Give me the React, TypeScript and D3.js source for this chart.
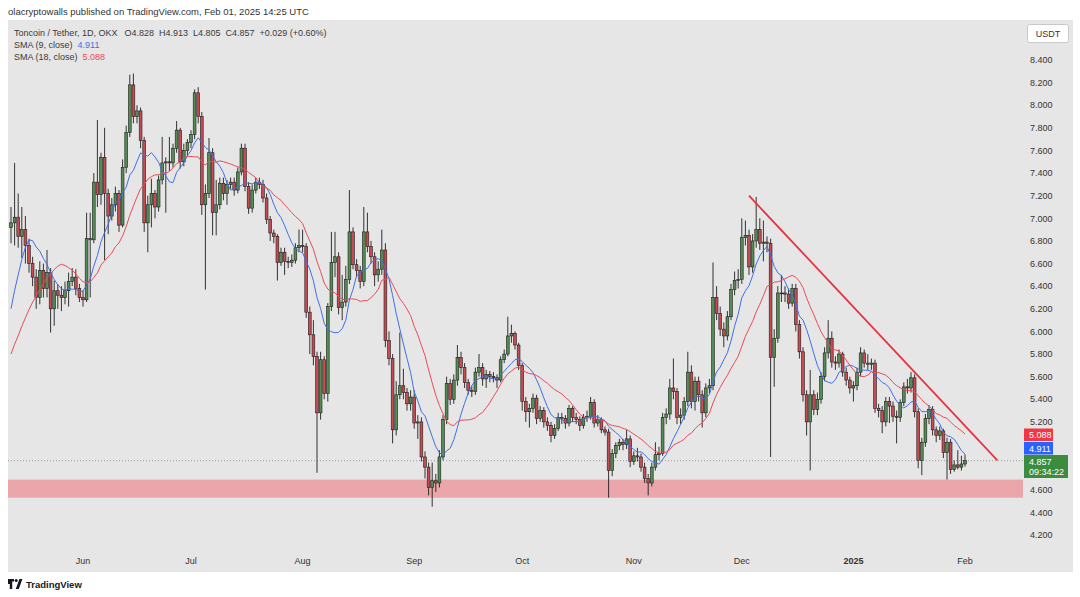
import React from "react";
import * as d3 from "d3";

// TON/USDT daily candles, 2024-05-12 .. 2025-02-01 (OKX)
const firstDay = "2024-05-12";
const firstOpen = 6.92;

// Apr 25 .. May 11, only there so the moving averages have some history
const priorCloses = [5.45, 5.5, 5.38, 5.42, 5.3, 5.28, 5.35, 5.42, 5.5, 5.55, 5.6, 5.68, 5.79, 6.0, 6.55, 6.8, 6.87];

const closes = [
  6.96, 7.01, 6.84, 6.9, 6.76, 6.6, 6.48, 6.3, 6.54, 6.38,
  6.52, 6.2, 6.36, 6.32, 6.3, 6.36, 6.44, 6.48, 6.38, 6.3,
  6.28, 6.82, 6.81, 7.32, 7.21, 7.54, 7.22, 7.02, 7.12, 7.22,
  6.94, 7.45, 7.76, 8.18, 7.9, 7.95, 7.69, 6.96, 7.12, 7.22,
  7.1, 7.34, 7.49, 7.5, 7.49, 7.62, 7.78, 7.5, 7.6, 7.67,
  7.74, 8.11, 7.9, 7.12, 7.22, 7.58, 7.05, 7.12, 7.31, 7.22,
  7.3, 7.32, 7.25, 7.41, 7.62, 7.28, 7.09, 7.25, 7.32, 7.3,
  7.18, 6.99, 6.87, 6.84, 6.61, 6.7, 6.62, 6.61, 6.63, 6.74,
  6.76, 6.75, 6.17, 5.97, 5.78, 5.28, 5.75, 5.45, 6.22, 6.61,
  6.66, 6.21, 6.26, 6.46, 6.88, 6.59, 6.54, 6.44, 6.88, 6.75,
  6.66, 6.5, 6.55, 6.72, 5.92, 5.76, 5.13, 5.44, 5.52, 5.46,
  5.36, 5.42, 5.19, 5.2, 4.89, 4.8, 4.62, 4.68, 4.66, 4.89,
  5.22, 5.54, 5.4, 5.57, 5.77, 5.68, 5.55, 5.48, 5.47, 5.64,
  5.68, 5.58, 5.62, 5.6, 5.59, 5.57, 5.75, 5.8, 5.96, 5.98,
  5.88, 5.7, 5.38, 5.29, 5.32, 5.41, 5.23, 5.3, 5.2, 5.17,
  5.08, 5.14, 5.24, 5.23, 5.19, 5.32, 5.24, 5.22, 5.17, 5.24,
  5.25, 5.37, 5.19, 5.22, 5.13, 5.11, 4.77, 4.92, 4.99, 5.02,
  5.0, 5.05, 4.85, 4.9, 4.89, 4.8, 4.7, 4.66, 4.8, 4.91,
  4.92, 5.24, 5.27, 5.5, 5.47, 5.24, 5.26, 5.38, 5.64, 5.38,
  5.56, 5.44, 5.28, 5.5, 5.52, 6.3, 6.16, 6.02, 5.96, 6.13,
  6.37, 6.45, 6.46, 6.83, 6.85, 6.57, 6.8, 6.9, 6.78, 6.79,
  6.78, 5.77, 5.94, 6.34, 6.34, 6.33, 6.25, 6.38, 6.06, 5.82,
  5.44, 5.2, 5.44, 5.31, 5.4, 5.6, 5.81, 5.94, 5.73, 5.72,
  5.8, 5.64, 5.57, 5.5, 5.52, 5.64, 5.81, 5.72, 5.71, 5.72,
  5.32, 5.3, 5.2, 5.38, 5.34, 5.25, 5.24, 5.37, 5.51, 5.5,
  5.59, 5.29, 4.86, 5.02, 5.23, 5.31, 5.13, 5.08, 5.12, 4.93,
  5.02, 4.78, 4.82, 4.8, 4.828, 4.857,
];

const highs = [
  7.1, 7.49, 7.22, 7.1, 7.02, 6.82, 6.66, 6.55, 6.62, 6.6,
  6.72, 6.56, 6.45, 6.42, 6.4, 6.44, 6.52, 6.56, 6.55, 6.42,
  6.36, 7.05, 7.05, 7.4, 7.87, 7.58, 7.8, 7.26, 7.18, 7.28,
  7.25, 7.52, 7.82, 8.27, 8.28, 8.0, 7.98, 7.72, 7.2, 7.35,
  7.25, 7.38, 7.72, 7.54, 7.72, 7.66, 7.86, 7.8, 7.66, 7.7,
  7.78, 8.14, 8.16, 7.94, 7.3, 7.71, 7.62, 7.34, 7.36, 7.36,
  7.34, 7.36, 7.36, 7.45, 7.66, 7.66, 7.32, 7.3, 7.36, 7.36,
  7.34, 7.22, 7.02, 6.9, 6.86, 6.74, 6.74, 6.66, 6.68, 6.78,
  6.9, 6.9, 6.78, 6.22, 6.1, 5.82, 5.82, 5.78, 6.25, 6.88,
  6.88, 6.7, 6.5, 6.58, 7.25, 6.92, 6.64, 6.58, 7.1, 7.05,
  6.8, 6.7, 6.62, 6.9, 6.78, 6.0, 5.8, 5.56, 5.99, 5.67,
  5.5, 5.48, 5.48, 5.26, 5.24, 4.94, 4.84, 4.84, 4.74, 4.95,
  5.26, 5.6, 5.58, 5.62, 5.88, 5.82, 5.72, 5.58, 5.52, 5.68,
  5.8, 5.72, 5.66, 5.65, 5.64, 5.62, 5.78, 5.84, 6.13, 6.06,
  6.0, 5.9, 5.72, 5.42, 5.36, 5.45, 5.44, 5.34, 5.33, 5.24,
  5.2, 5.18, 5.28, 5.28, 5.26, 5.35, 5.34, 5.28, 5.25, 5.27,
  5.3, 5.42, 5.4, 5.26, 5.24, 5.16, 5.14, 4.96, 5.02, 5.05,
  5.05, 5.13, 5.08, 4.94, 4.97, 4.92, 4.84, 4.74, 4.84, 5.02,
  4.98, 5.28, 5.32, 5.58, 5.76, 5.5, 5.32, 5.42, 5.82, 5.7,
  5.6, 5.6, 5.48, 5.54, 5.58, 6.61, 6.4, 6.22, 6.08, 6.18,
  6.42, 6.53, 6.55, 7.0, 6.98, 6.9, 6.86, 7.19, 7.0, 6.98,
  6.84, 6.82, 6.02, 6.4, 6.5, 6.4, 6.38, 6.42, 6.42, 6.1,
  5.86, 5.48, 5.66, 5.48, 5.46, 5.64, 5.86, 6.1, 6.0, 5.78,
  5.84, 5.82, 5.68, 5.6, 5.56, 5.68, 5.86, 5.84, 5.8, 5.76,
  5.75, 5.36, 5.34, 5.42, 5.42, 5.38, 5.3, 5.4, 5.55, 5.58,
  5.64, 5.62, 5.32, 5.06, 5.27, 5.35, 5.34, 5.16, 5.16, 5.14,
  5.06, 5.05, 4.86, 4.95, 4.9, 4.913,
];

const lows = [
  6.78, 6.76, 6.74, 6.65, 6.6, 6.52, 6.4, 6.2, 6.24, 6.3,
  6.3, 5.99, 6.05, 6.2, 6.18, 6.24, 6.22, 6.4, 6.32, 6.26,
  6.22, 6.26, 6.3, 6.78, 7.1, 7.12, 6.63, 6.86, 6.98, 7.06,
  6.88, 6.92, 7.4, 7.72, 7.84, 7.84, 7.62, 6.88, 6.7, 6.92,
  7.0, 7.06, 7.3, 7.05, 7.42, 7.45, 7.58, 7.44, 7.46, 7.55,
  7.62, 7.7, 7.84, 7.03, 6.37, 7.18, 6.85, 6.85, 7.08, 7.16,
  7.12, 7.26, 7.2, 7.22, 7.38, 7.24, 7.04, 7.05, 7.22, 7.26,
  7.14, 6.95, 6.8, 6.78, 6.45, 6.58, 6.5, 6.56, 6.57, 6.6,
  6.7, 6.7, 6.12, 5.8, 5.7, 4.75, 5.22, 5.4, 5.38, 6.18,
  6.48, 6.15, 6.1, 6.22, 6.42, 6.55, 6.48, 6.38, 6.4, 6.7,
  6.6, 6.4, 6.44, 6.5, 5.86, 5.7, 5.01, 5.08, 5.4, 5.4,
  5.3, 5.3, 5.14, 5.05, 4.85, 4.7, 4.55, 4.45, 4.58, 4.62,
  4.86, 5.18, 5.35, 5.36, 5.52, 5.62, 5.5, 5.44, 5.42, 5.44,
  5.6, 5.52, 5.5, 5.55, 5.55, 5.5, 5.55, 5.72, 5.78, 5.9,
  5.84, 5.66, 5.3, 5.2, 5.15, 5.28, 5.18, 5.2, 5.15, 5.12,
  5.02, 5.05, 5.12, 5.18, 5.14, 5.16, 5.2, 5.18, 5.12, 5.14,
  5.2, 5.22, 5.15, 5.16, 5.1, 5.08, 4.53, 4.72, 4.88, 4.95,
  4.95, 4.96, 4.8, 4.82, 4.85, 4.76, 4.66, 4.55, 4.63, 4.77,
  4.86, 4.9, 5.18, 5.22, 5.4, 5.18, 5.18, 5.22, 5.34, 5.32,
  5.3, 5.38, 5.15, 5.24, 5.45, 5.48, 6.1, 5.96, 5.86, 5.92,
  6.1, 6.32, 6.38, 6.42, 6.76, 6.5, 6.52, 6.74, 6.72, 6.62,
  6.7, 4.89, 5.51, 5.9, 6.26, 6.26, 6.2, 6.22, 6.0, 5.76,
  5.38, 5.08, 4.77, 5.26, 5.26, 5.36, 5.56, 5.76, 5.68, 5.66,
  5.68, 5.6, 5.52, 5.45, 5.38, 5.48, 5.6, 5.68, 5.66, 5.66,
  5.28, 5.24, 5.1, 5.16, 5.19, 5.2, 5.01, 5.2, 5.34, 5.45,
  5.46, 5.24, 4.79, 4.73, 4.98, 5.18, 5.08, 5.02, 5.04, 4.88,
  4.69, 4.74, 4.76, 4.78, 4.77, 4.805,
];

const priceTicks = [4.2, 4.4, 4.6, 4.8, 5.0, 5.2, 5.4, 5.6, 5.8, 6.0, 6.2, 6.4, 6.6, 6.8, 7.0, 7.2, 7.4, 7.6, 7.8, 8.0, 8.2, 8.4];
const monthStarts = ["2024-06-01", "2024-07-01", "2024-08-01", "2024-09-01", "2024-10-01", "2024-11-01", "2024-12-01", "2025-01-01", "2025-02-01"];
const monthLabels = ["Jun", "Jul", "Aug", "Sep", "Oct", "Nov", "Dec", "2025", "Feb"];

const supportZone = [4.53, 4.69];
const trendDates = ["2024-12-03", "2025-02-10"];
const trendPrices = [7.2, 4.86];

const smaPeriods = [9, 18];
const smaColors = ["#3e6fe6", "#ea4a58"];
const smaLast = ["4.911", "5.088"];

const symbolText = "Toncoin / Tether, 1D, OKX";
const ohlcText = ["O4.828", "H4.913", "L4.805", "C4.857", "+0.029 (+0.60%)"];
const lastPrice = 4.857;
const countdown = "09:34:22";

const upColor = "#538d53";
const downColor = "#c84a52";
const wickColor = "#1e1e1e";
const font = "'Liberation Sans', Arial, sans-serif";

type Pt = { date: Date; v: number };

export default function App() {
  const parse = d3.utcParse("%Y-%m-%d");
  const start = parse(firstDay) as Date;
  const days = d3.utcDay.range(start, d3.utcDay.offset(start, closes.length));

  const plotL = 8;
  const plotR = 1023;
  const x = d3.scaleUtc().domain([start, days[days.length - 1]]).range([11, 965]);
  const y = d3.scaleLinear().domain([4.2, 8.4]).range([535, 60]);

  const candles = closes.map((c, i) => ({
    date: days[i],
    open: i === 0 ? firstOpen : closes[i - 1],
    high: highs[i],
    low: lows[i],
    close: c,
  }));

  const all = priorCloses.concat(closes);
  const off = priorCloses.length;
  const smaSeries = smaPeriods.map((n) =>
    closes.map((_, i) => ({ date: days[i], v: d3.mean(all.slice(i + off - n + 1, i + off + 1)) as number }))
  );
  const line = d3
    .line<Pt>()
    .x((d) => x(d.date))
    .y((d) => y(d.v));

  const trend = trendDates.map((d, i) => ({ date: parse(d) as Date, v: trendPrices[i] }));
  const lastY = y(lastPrice);
  const bw = 2.8;

  // the value boxes cover the axis labels between these rows
  const boxTop = 428;
  const boxBottom = 479;

  return (
    <svg
      width={1080}
      height={597}
      style={{ position: "fixed", left: 0, top: 0, display: "block", background: "#fff" }}
      fontFamily={font}
    >
      <defs>
        <clipPath id="plot">
          <rect x={plotL} y={20} width={plotR - plotL} height={528} />
        </clipPath>
      </defs>

      <text x={8} y={15} fontSize={9.5} fill="#333">
        olacryptowalls published on TradingView.com, Feb 01, 2025 14:25 UTC
      </text>

      <rect x={8} y={20} width={1065} height={552} fill="#e6e6e6" />

      <g clipPath="url(#plot)">
        <rect
          x={plotL}
          y={y(supportZone[1])}
          width={plotR - plotL}
          height={y(supportZone[0]) - y(supportZone[1])}
          fill="#eba6ab"
        />
        <line x1={plotL} x2={plotR} y1={lastY} y2={lastY} stroke="#8a8a8a" strokeWidth={0.8} strokeDasharray="1 2" />

        {candles.map((d, i) => {
          const cx = x(d.date);
          const up = d.close >= d.open;
          const top = y(Math.max(d.open, d.close));
          const bot = y(Math.min(d.open, d.close));
          return (
            <g key={i}>
              <line x1={cx} x2={cx} y1={y(d.high)} y2={y(d.low)} stroke={wickColor} strokeWidth={0.9} />
              <rect
                x={cx - bw / 2}
                y={top}
                width={bw}
                height={Math.max(0.8, bot - top)}
                fill={up ? upColor : downColor}
                stroke={wickColor}
                strokeWidth={0.6}
              />
            </g>
          );
        })}

        {smaSeries.map((s, k) => (
          <path key={k} d={line(s) || ""} fill="none" stroke={smaColors[k]} strokeWidth={1} />
        ))}

        <path d={line(trend) || ""} fill="none" stroke="#e5343f" strokeWidth={1.8} />
      </g>

      {/* price axis */}
      {priceTicks
        .filter((p) => y(p) < boxTop - 2 || y(p) > boxBottom + 2)
        .map((p) => (
          <text key={p} x={1030} y={y(p) + 3.2} fontSize={9} fill="#333">
            {d3.format(".3f")(p)}
          </text>
        ))}

      <rect x={1027.5} y={24.5} width={41} height={18} fill="#fff" stroke="#c8c8c8" rx={2} />
      <text x={1048} y={37} fontSize={9} fill="#333" textAnchor="middle">
        USDT
      </text>

      <rect x={1024} y={428.5} width={29} height={12.5} fill="#f23645" />
      <text x={1029} y={438.3} fontSize={9} fill="#fff">
        {smaLast[1]}
      </text>
      <rect x={1024} y={442} width={29} height={12.5} fill="#2962ff" />
      <text x={1029} y={451.8} fontSize={9} fill="#fff">
        {smaLast[0]}
      </text>
      <rect x={1024} y={455} width={44} height={23} fill="#3c8c3f" />
      <text x={1029} y={465} fontSize={9} fill="#fff">
        {d3.format(".3f")(lastPrice)}
      </text>
      <text x={1029} y={475} fontSize={9} fill="#fff">
        {countdown}
      </text>

      {/* time axis */}
      {monthStarts.map((m, i) => (
        <text
          key={m}
          x={x(parse(m) as Date)}
          y={564}
          fontSize={9}
          fill="#333"
          textAnchor="middle"
          fontWeight={monthLabels[i] === "2025" ? "bold" : "normal"}
        >
          {monthLabels[i]}
        </text>
      ))}

      {/* legend */}
      <text x={14} y={36} fontSize={9} fill="#3a3a3a">
        <tspan>{symbolText}</tspan>
        {ohlcText.map((t, i) => (
          <tspan key={i} dx={i === 0 ? 7 : 5}>
            {t}
          </tspan>
        ))}
      </text>
      <text x={14} y={48} fontSize={9} fill="#3a3a3a">
        SMA (9, close)
        <tspan dx={5} fill={smaColors[0]}>
          {smaLast[0]}
        </tspan>
      </text>
      <text x={14} y={60} fontSize={9} fill="#3a3a3a">
        SMA (18, close)
        <tspan dx={5} fill={smaColors[1]}>
          {smaLast[1]}
        </tspan>
      </text>

      {/* footer logo */}
      <g fill="#131722">
        <path d="M8 579h6v2.6h-1.8v7.4h-2.4v-5h-1.8z" />
        <circle cx={16.2} cy={580.6} r={1.5} />
        <path d="M19.4 579h3l-3.6 10h-3z" />
      </g>
      <text x={26} y={588} fontSize={9.5} fontWeight="bold" fill="#131722">
        TradingView
      </text>
    </svg>
  );
}
